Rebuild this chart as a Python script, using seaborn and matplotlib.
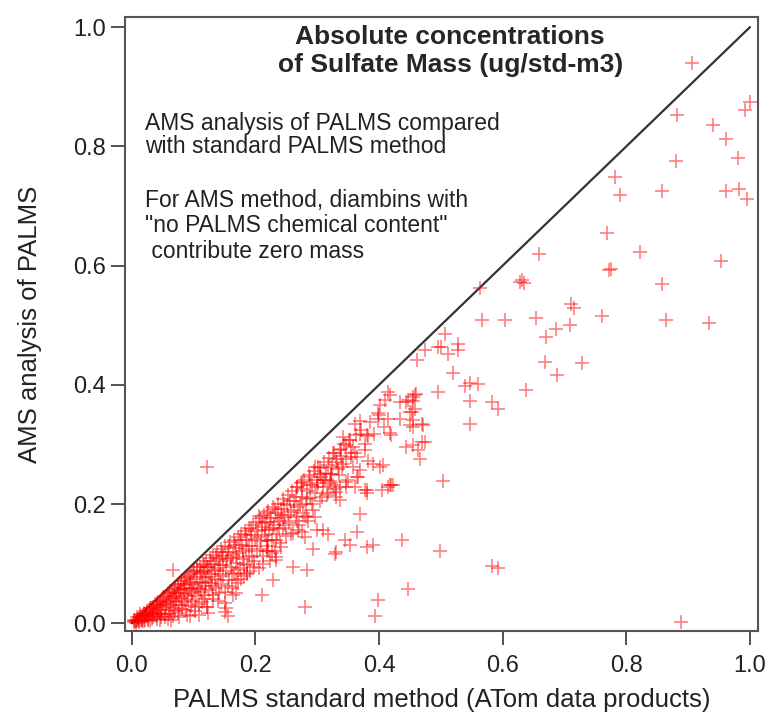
import numpy as np
import pandas as pd
import seaborn as sns
import matplotlib.pyplot as plt

# PALMS standard method (x) vs AMS analysis of PALMS (y)
# dense band near the 1:1 line
x_band = [0.003, 0.005, 0.006, 0.008, 0.010, 0.010, 0.012, 0.013, 0.015, 0.016, 0.017, 0.018, 0.020, 0.021,
          0.022, 0.024, 0.025, 0.026, 0.028, 0.029, 0.030, 0.031, 0.032, 0.034, 0.035, 0.036, 0.038, 0.039,
          0.040, 0.041, 0.043, 0.044, 0.045, 0.047, 0.048, 0.049, 0.050,
          0.052, 0.053, 0.055, 0.056, 0.058, 0.059, 0.060, 0.061, 0.063, 0.064, 0.065, 0.066, 0.068, 0.069,
          0.070, 0.071, 0.073, 0.074, 0.075, 0.076, 0.078, 0.079, 0.080, 0.081, 0.083, 0.084, 0.085, 0.086,
          0.088, 0.089, 0.090, 0.091, 0.093, 0.094, 0.095, 0.096, 0.098, 0.099, 0.100,
          0.102, 0.103, 0.104, 0.106, 0.107, 0.108, 0.110, 0.111, 0.112, 0.114, 0.115, 0.116, 0.118, 0.119,
          0.120, 0.121, 0.123, 0.124, 0.125, 0.127, 0.128, 0.129, 0.131, 0.132, 0.133, 0.135, 0.136, 0.138,
          0.139, 0.140, 0.141, 0.143, 0.144, 0.145, 0.147, 0.148, 0.150,
          0.151, 0.153, 0.154, 0.156, 0.157, 0.159, 0.160, 0.162, 0.163, 0.165, 0.166, 0.168, 0.169, 0.171,
          0.172, 0.174, 0.175, 0.177, 0.178, 0.180, 0.181, 0.183, 0.184, 0.186, 0.187, 0.189, 0.190, 0.192,
          0.193, 0.195, 0.196, 0.198, 0.199,
          0.201, 0.203, 0.204, 0.206, 0.207, 0.209, 0.210, 0.212, 0.214, 0.215, 0.217, 0.219, 0.220, 0.222,
          0.224, 0.225, 0.227, 0.229, 0.230, 0.232, 0.234, 0.235, 0.237, 0.239, 0.240, 0.242, 0.244, 0.245,
          0.247, 0.249,
          0.251, 0.253, 0.255, 0.257, 0.259, 0.261, 0.263, 0.265, 0.267, 0.269, 0.271, 0.273, 0.275, 0.277,
          0.279, 0.281, 0.283, 0.285, 0.287, 0.289, 0.291, 0.293, 0.295, 0.297, 0.299,
          0.302, 0.304, 0.306, 0.309, 0.311, 0.314, 0.316, 0.319, 0.321, 0.324, 0.327, 0.329, 0.332, 0.335,
          0.338, 0.340, 0.343, 0.346, 0.349, 0.352, 0.355, 0.358,
          0.362, 0.370, 0.378, 0.385, 0.392, 0.400, 0.408]
y_band = [0.002, 0.004, 0.003, 0.006, 0.007, 0.004, 0.010, 0.006, 0.012, 0.008, 0.003, 0.014, 0.010, 0.016,
          0.006, 0.019, 0.012, 0.008, 0.022, 0.015, 0.004, 0.025, 0.018, 0.011, 0.028, 0.021, 0.014, 0.031,
          0.007, 0.024, 0.035, 0.017, 0.029, 0.010, 0.038, 0.022, 0.032,
          0.041, 0.015, 0.027, 0.045, 0.036, 0.008, 0.049, 0.022, 0.040, 0.031, 0.053, 0.012, 0.045, 0.026,
          0.058, 0.037, 0.050, 0.018, 0.062, 0.030, 0.055, 0.043, 0.066, 0.024, 0.060, 0.035, 0.072, 0.049,
          0.064, 0.014, 0.077, 0.040, 0.057, 0.070, 0.029, 0.082, 0.050, 0.066, 0.087,
          0.020, 0.074, 0.045, 0.090, 0.060, 0.033, 0.082, 0.095, 0.052, 0.070, 0.100, 0.040, 0.086, 0.062,
          0.104, 0.027, 0.078, 0.094, 0.055, 0.110, 0.068, 0.088, 0.047, 0.115, 0.100, 0.075, 0.060, 0.120,
          0.092, 0.038, 0.107, 0.082, 0.125, 0.066, 0.098, 0.113, 0.052,
          0.130, 0.088, 0.107, 0.120, 0.072, 0.136, 0.095, 0.060, 0.115, 0.140, 0.083, 0.127, 0.101, 0.145,
          0.068, 0.118, 0.092, 0.150, 0.132, 0.108, 0.079, 0.155, 0.125, 0.098, 0.140, 0.160, 0.113, 0.087,
          0.148, 0.130, 0.165, 0.104, 0.142,
          0.170, 0.122, 0.155, 0.092, 0.177, 0.138, 0.162, 0.113, 0.182, 0.148, 0.170, 0.130, 0.188, 0.157,
          0.104, 0.176, 0.140, 0.195, 0.165, 0.122, 0.185, 0.150, 0.200, 0.172, 0.135, 0.192, 0.160, 0.208,
          0.178, 0.146,
          0.198, 0.215, 0.168, 0.186, 0.222, 0.152, 0.205, 0.178, 0.228, 0.195, 0.165, 0.235, 0.212, 0.185,
          0.240, 0.200, 0.222, 0.172, 0.248, 0.210, 0.232, 0.190, 0.255, 0.218, 0.240,
          0.262, 0.205, 0.245, 0.228, 0.270, 0.252, 0.215, 0.278, 0.238, 0.262, 0.285, 0.225, 0.270, 0.248,
          0.292, 0.262, 0.300, 0.275, 0.240, 0.308, 0.285, 0.262,
          0.315, 0.325, 0.300, 0.338, 0.318, 0.350, 0.330]

# more of the band (filling the lower half of it), as (x, y) pairs
band_fill = [(0.004, 0.006), (0.007, 0.001), (0.009, 0.010), (0.011, 0.002), (0.014, 0.015), (0.016, 0.005),
             (0.019, 0.018), (0.020, 0.003), (0.023, 0.012), (0.025, 0.021), (0.027, 0.005), (0.030, 0.026),
             (0.033, 0.008), (0.035, 0.017), (0.037, 0.032), (0.040, 0.012), (0.042, 0.030), (0.045, 0.005),
             (0.046, 0.038), (0.048, 0.016), (0.051, 0.044), (0.054, 0.010), (0.056, 0.034), (0.058, 0.050),
             (0.060, 0.016),
             (0.062, 0.054), (0.064, 0.006), (0.066, 0.038), (0.068, 0.060), (0.070, 0.020), (0.072, 0.044),
             (0.074, 0.066), (0.076, 0.010), (0.077, 0.050), (0.079, 0.071), (0.082, 0.031), (0.084, 0.058),
             (0.086, 0.076), (0.087, 0.022), (0.089, 0.046), (0.092, 0.080), (0.094, 0.012), (0.096, 0.060),
             (0.097, 0.038), (0.099, 0.086), (0.101, 0.054), (0.103, 0.028), (0.105, 0.068), (0.106, 0.095),
             (0.108, 0.014), (0.110, 0.058), (0.112, 0.086), (0.113, 0.035), (0.115, 0.078), (0.117, 0.098),
             (0.118, 0.048), (0.120, 0.070),
             (0.122, 0.094), (0.124, 0.018), (0.126, 0.082), (0.128, 0.105), (0.130, 0.062), (0.132, 0.040),
             (0.134, 0.090), (0.137, 0.112), (0.139, 0.072), (0.141, 0.050), (0.143, 0.098), (0.146, 0.120),
             (0.148, 0.080), (0.150, 0.034), (0.152, 0.104), (0.155, 0.062), (0.158, 0.128), (0.160, 0.110),
             (0.162, 0.084), (0.164, 0.048), (0.167, 0.132), (0.170, 0.112), (0.172, 0.090), (0.175, 0.140),
             (0.177, 0.074), (0.180, 0.122), (0.182, 0.100), (0.185, 0.148), (0.187, 0.084), (0.190, 0.130),
             (0.193, 0.158), (0.195, 0.112), (0.198, 0.095),
             (0.202, 0.145), (0.205, 0.180), (0.208, 0.124), (0.211, 0.168), (0.213, 0.100), (0.216, 0.156),
             (0.218, 0.185), (0.221, 0.138), (0.223, 0.170), (0.226, 0.118), (0.228, 0.160), (0.231, 0.192),
             (0.233, 0.140), (0.236, 0.176), (0.238, 0.158), (0.241, 0.128), (0.243, 0.182), (0.246, 0.200),
             (0.248, 0.165), (0.252, 0.182), (0.256, 0.205), (0.258, 0.150), (0.262, 0.190), (0.266, 0.212),
             (0.268, 0.172), (0.272, 0.198), (0.276, 0.226), (0.280, 0.180), (0.284, 0.208), (0.288, 0.232),
             (0.292, 0.200), (0.296, 0.178),
             (0.301, 0.235), (0.305, 0.260), (0.308, 0.212), (0.313, 0.240), (0.318, 0.265), (0.322, 0.250),
             (0.326, 0.232), (0.330, 0.275), (0.334, 0.258), (0.339, 0.280)]

# scattered points away from the band
x_scat = [0.906, 1.000, 0.992, 0.882, 0.941, 0.961, 0.980, 0.881, 0.782, 0.790, 0.858, 0.962, 0.982, 0.996,
          0.768, 0.822, 0.772, 0.776, 0.953, 0.858, 0.711, 0.715, 0.760, 0.864, 0.933, 0.709,
          0.659, 0.632, 0.628, 0.634, 0.563, 0.567, 0.604, 0.654, 0.686, 0.670, 0.528, 0.528, 0.506,
          0.668, 0.729, 0.520, 0.688, 0.539, 0.560, 0.638, 0.547, 0.582, 0.593, 0.547, 0.504, 0.582, 0.593, 0.888,
          0.501, 0.512, 0.496, 0.474, 0.461, 0.496, 0.434, 0.444, 0.458, 0.455, 0.453, 0.469, 0.455, 0.547,
          0.415, 0.417, 0.409, 0.460, 0.447, 0.401, 0.398, 0.369, 0.415, 0.434, 0.458, 0.450, 0.471, 0.417,
          0.382, 0.455, 0.463, 0.466, 0.474,
          0.342, 0.353, 0.358, 0.361, 0.364, 0.347, 0.337, 0.326, 0.377, 0.382, 0.391, 0.407, 0.401, 0.417,
          0.377, 0.364, 0.347, 0.337, 0.331,
          0.121, 0.361, 0.369, 0.380, 0.355, 0.342, 0.369, 0.347, 0.361, 0.380, 0.369, 0.296, 0.304, 0.288,
          0.275, 0.267, 0.299, 0.310, 0.323, 0.323, 0.331, 0.318,
          0.364, 0.391, 0.345, 0.331, 0.299, 0.283, 0.293,
          0.067, 0.150, 0.156, 0.210, 0.229, 0.234, 0.221, 0.261, 0.280, 0.269, 0.121,
          0.404, 0.420, 0.380, 0.437, 0.498, 0.447, 0.399, 0.393,
          0.283, 0.328, 0.353, 0.153, 0.310, 0.318, 0.276, 0.280, 0.218, 0.234, 0.218, 0.186, 0.169, 0.169,
          0.455, 0.450, 0.455, 0.469, 0.444, 0.420, 0.423, 0.415, 0.380, 0.366, 0.399, 0.337]
y_scat = [0.940, 0.875, 0.861, 0.852, 0.836, 0.812, 0.781, 0.776, 0.749, 0.718, 0.725, 0.725, 0.728, 0.711,
          0.655, 0.623, 0.592, 0.595, 0.607, 0.569, 0.536, 0.529, 0.515, 0.508, 0.504, 0.500,
          0.620, 0.576, 0.573, 0.571, 0.562, 0.509, 0.509, 0.512, 0.494, 0.480, 0.469, 0.458, 0.486,
          0.438, 0.437, 0.420, 0.416, 0.398, 0.401, 0.391, 0.373, 0.371, 0.359, 0.335, 0.239, 0.096, 0.092, 0.002,
          0.463, 0.451, 0.463, 0.458, 0.441, 0.388, 0.371, 0.371, 0.383, 0.373, 0.355, 0.335, 0.329, 0.403,
          0.388, 0.383, 0.374, 0.385, 0.374, 0.366, 0.352, 0.339, 0.343, 0.343, 0.359, 0.332, 0.332, 0.319,
          0.314, 0.299, 0.290, 0.276, 0.304,
          0.313, 0.307, 0.296, 0.285, 0.279, 0.299, 0.290, 0.285, 0.290, 0.273, 0.268, 0.265, 0.262, 0.232,
          0.223, 0.246, 0.229, 0.229, 0.212,
          0.262, 0.335, 0.318, 0.315, 0.279, 0.268, 0.257, 0.237, 0.229, 0.223, 0.184, 0.262, 0.251, 0.245,
          0.237, 0.229, 0.229, 0.240, 0.251, 0.235, 0.220, 0.218,
          0.153, 0.131, 0.139, 0.120, 0.156, 0.178, 0.125,
          0.089, 0.019, 0.013, 0.047, 0.072, 0.106, 0.122, 0.094, 0.027, 0.156, 0.027,
          0.223, 0.232, 0.128, 0.140, 0.122, 0.058, 0.039, 0.013,
          0.089, 0.117, 0.131, 0.025, 0.156, 0.150, 0.153, 0.145, 0.122, 0.111, 0.139, 0.083, 0.050, 0.072,
          0.380, 0.355, 0.341, 0.304, 0.296, 0.315, 0.232, 0.229, 0.218, 0.246, 0.343, 0.206]

x_fill = [p[0] for p in band_fill]
y_fill = [p[1] for p in band_fill]
df = pd.DataFrame({'palms': x_band + x_fill + x_scat, 'ams': y_band + y_fill + y_scat})

sns.set_style("white")
plt.rcParams['font.family'] = ['Liberation Sans', 'DejaVu Sans']
fig, ax = plt.subplots(1, 1, figsize=(7.73, 7.17), dpi=100)
fig.subplots_adjust(left=0.1617, right=0.9806, bottom=0.1199, top=0.9763)

# 1:1 line
ax.plot([0, 1], [0, 1], color='#333333', lw=1.6, zorder=1)

sns.scatterplot(data=df, x='palms', y='ams', marker='+', color='red', alpha=0.5,
                s=100, linewidth=1.2, ax=ax, zorder=2)

ax.set_xlim(-0.011, 1.013)
ax.set_ylim(-0.013, 1.017)
ticks = [0.0, 0.2, 0.4, 0.6, 0.8, 1.0]
ax.set_xticks(ticks)
ax.set_yticks(ticks)
ax.set_xticklabels(['%.1f' % t for t in ticks], fontsize=17)
ax.set_yticklabels(['%.1f' % t for t in ticks], fontsize=17)
ax.tick_params(direction='out', length=10, width=1.3, color='#444444', pad=4,
               bottom=True, left=True, labelcolor='#222222')
ax.tick_params(axis='x', pad=7)
for sp in ax.spines.values():
    sp.set_color('#555555')
    sp.set_linewidth(1.5)

ax.set_xlabel("PALMS standard method (ATom data products)", fontsize=18.5, labelpad=8, color='#222222')
ax.set_ylabel("AMS analysis of PALMS", fontsize=18.5, labelpad=22, color='#222222')

ax.text(0.515, 1.003, "Absolute concentrations\nof Sulfate Mass (ug/std-m3)", ha='center', va='top',
        fontsize=19, fontweight='bold', linespacing=1.2)
ax.text(0.021, 0.858, "AMS analysis of PALMS compared\nwith standard PALMS method", ha='left', va='top',
        fontsize=16.5, linespacing=1.0, color='#222222')
ax.text(0.021, 0.728, "For AMS method, diambins with\n\"no PALMS chemical content\"\n contribute zero mass",
        ha='left', va='top', fontsize=16.5, linespacing=1.12, color='#222222')

fig.savefig("out.png", dpi=100)
